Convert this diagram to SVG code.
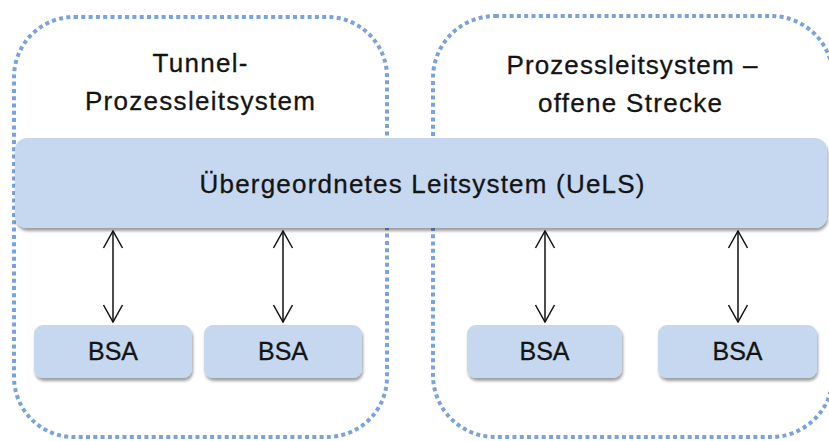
<svg xmlns="http://www.w3.org/2000/svg" width="829" height="441" viewBox="0 0 829 441">
  <style>
    .zone { fill: none; stroke: #7aa3dc; stroke-width: 4; stroke-dasharray: 4 3.3; }
    .box { fill: #c5d8ef; filter: url(#shadow); }
    .label { font-family: "Liberation Sans", Arial, sans-serif; font-size: 26px; fill: #141414; stroke: #141414; stroke-width: 0.3; text-anchor: middle; }
    .bsa { font-size: 25px; }
    .link { stroke: #111; stroke-width: 1.5; fill: none; marker-start: url(#chev); marker-end: url(#chev); }
  </style>
  <defs>
    <filter id="shadow" x="-5%" y="-20%" width="110%" height="150%">
      <feDropShadow dx="1" dy="3" stdDeviation="1.6" flood-color="#000" flood-opacity="0.38"/>
    </filter>
    <marker id="chev" viewBox="0 0 20 24" refX="19" refY="12" markerWidth="20" markerHeight="24" markerUnits="userSpaceOnUse" orient="auto-start-reverse">
      <path d="M2,2.5 L19,12 L2,21.5" fill="none" stroke="#111" stroke-width="1.5"/>
    </marker>
  </defs>

  <!-- dotted zones -->
  <g id="zone-tunnel">
    <rect class="zone" x="14" y="17" width="373" height="420" rx="60" ry="60"/>
    <text class="label" x="200" y="72" textLength="95" lengthAdjust="spacing">Tunnel-</text>
    <text class="label" x="200" y="110" textLength="230" lengthAdjust="spacing">Prozessleitsystem</text>
  </g>
  <g id="zone-strecke">
    <rect class="zone" x="433" y="16" width="400" height="421" rx="62" ry="62"/>
    <text class="label" x="632" y="74" textLength="251" lengthAdjust="spacing">Prozessleitsystem –</text>
    <text class="label" x="630" y="112" textLength="184" lengthAdjust="spacing">offene Strecke</text>
  </g>

  <!-- central control system -->
  <g id="uels">
    <rect class="box" x="15" y="138" width="812" height="90" rx="12" ry="12"/>
    <text class="label" x="422" y="193" textLength="445" lengthAdjust="spacing">Übergeordnetes Leitsystem (UeLS)</text>
  </g>

  <!-- BSA units -->
  <g id="bsa-1">
    <rect class="box" x="34" y="325" width="158" height="53" rx="9" ry="9"/>
    <text class="label bsa" x="113" y="360">BSA</text>
  </g>
  <g id="bsa-2">
    <rect class="box" x="204" y="325" width="158" height="53" rx="9" ry="9"/>
    <text class="label bsa" x="283" y="360">BSA</text>
  </g>
  <g id="bsa-3">
    <rect class="box" x="467" y="325" width="155" height="53" rx="9" ry="9"/>
    <text class="label bsa" x="544.5" y="360">BSA</text>
  </g>
  <g id="bsa-4">
    <rect class="box" x="658" y="325" width="159" height="53" rx="9" ry="9"/>
    <text class="label bsa" x="737.5" y="360">BSA</text>
  </g>

  <!-- connectors -->
  <g id="connectors">
    <line class="link" x1="113" y1="231" x2="113" y2="322"/>
    <line class="link" x1="283" y1="231" x2="283" y2="322"/>
    <line class="link" x1="545" y1="231" x2="545" y2="322"/>
    <line class="link" x1="738" y1="231" x2="738" y2="322"/>
  </g>
</svg>
